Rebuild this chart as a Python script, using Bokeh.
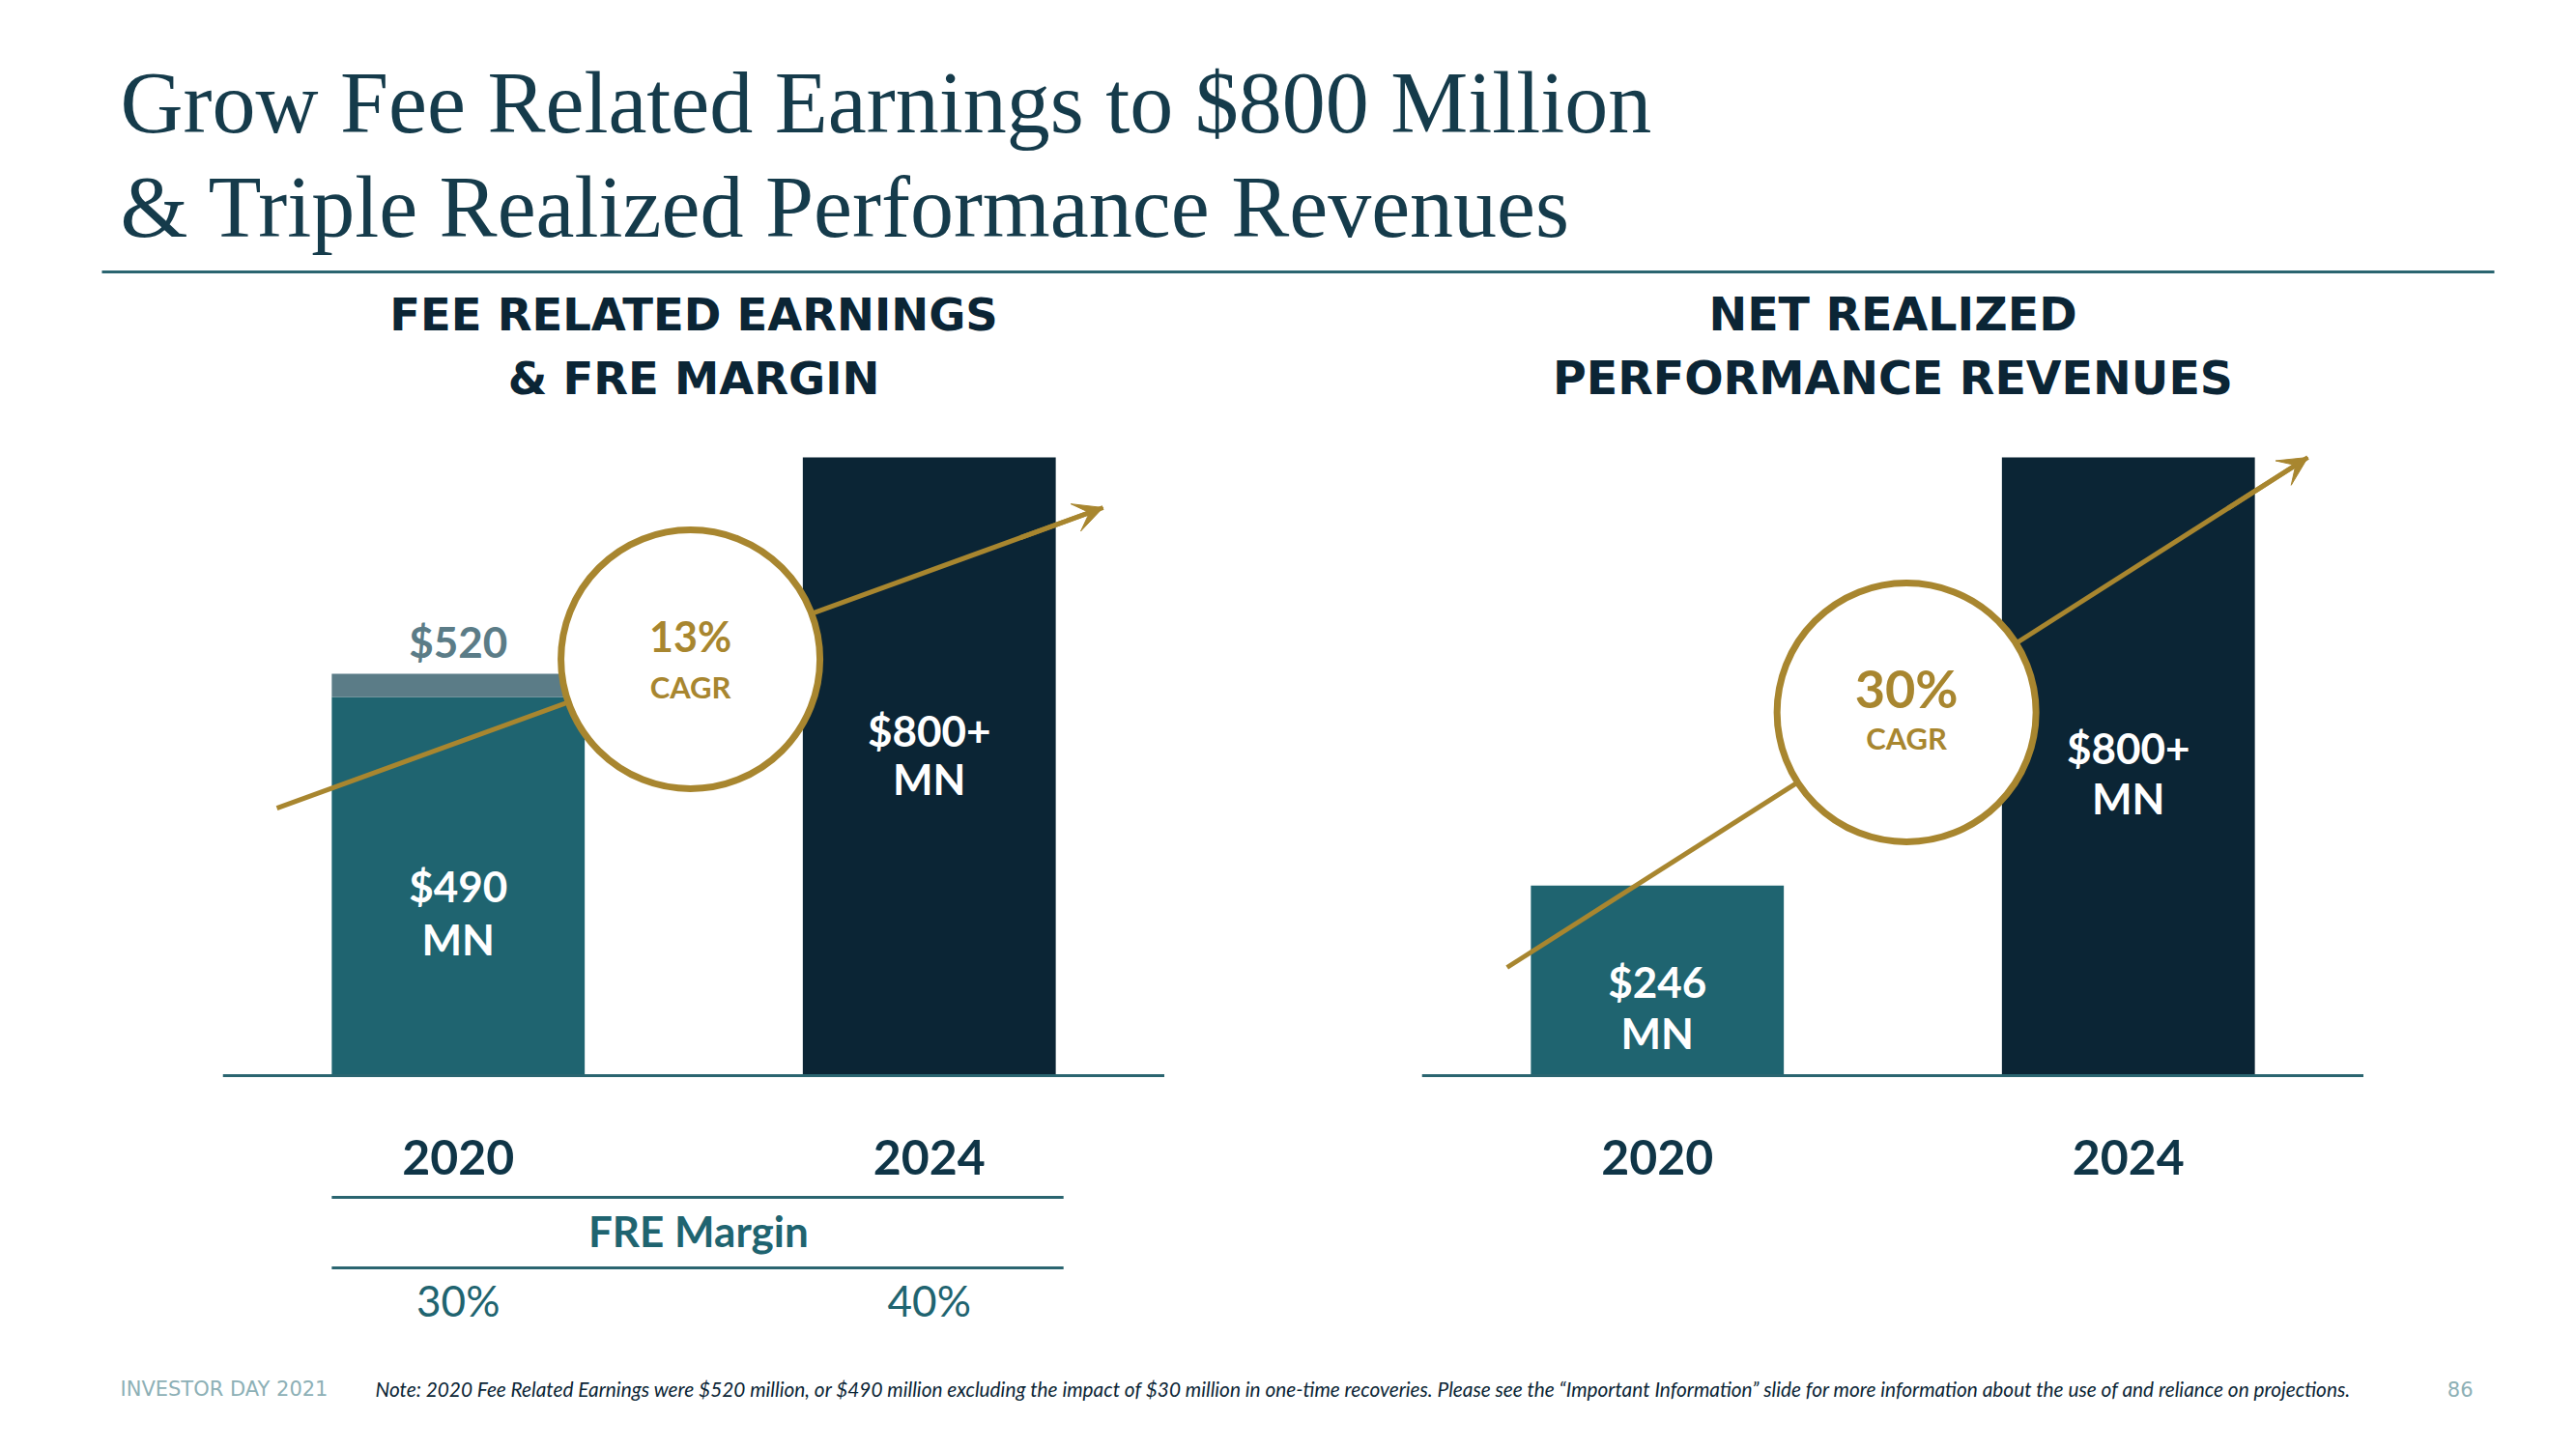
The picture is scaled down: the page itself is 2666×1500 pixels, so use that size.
from bokeh.plotting import figure
from bokeh.models import Range1d, FactorRange, Arrow, VeeHead, Spacer, ColumnDataSource
from bokeh.layouts import column, row
from bokeh.core.properties import value
from bokeh.embed import file_html
from bokeh.resources import INLINE

# ---------------- data ----------------
title_lines = ["Grow Fee Related Earnings to $800 Million",
               "& Triple Realized Performance Revenues"]
left_subtitle = ["FEE RELATED EARNINGS", "& FRE MARGIN"]
right_subtitle = ["NET REALIZED", "PERFORMANCE REVENUES"]
years = ["2020", "2024"]
fre_core = [490, 800]          # $ MN
fre_recovery = [30, 0]         # one-time recoveries ($ MN)
fre_value_labels = ["$490", "$800+"]
fre_total_label = "$520"
perf_rev = [246, 800]          # $ MN
perf_value_labels = ["$246", "$800+"]
fre_margin = ["30%", "40%"]
fre_cagr = "13%"
perf_cagr = "30%"
footer_left = "INVESTOR DAY 2021"
footer_note = ("Note: 2020 Fee Related Earnings were $520 million, or $490 million excluding the impact of "
               "$30 million in one-time recoveries. Please see the \u201cImportant Information\u201d slide for "
               "more information about the use of and reliance on projections.")
page_number = "86"

# ---------------- styles ----------------
NAVY = "#0b2535"
TEAL = "#1f6470"
LIGHT = "#5b7c87"
GOLD = "#a8862f"
RULE = "#2a6570"
TITLE_C = "#153b4b"
SANS = value("Lato")
BAR_W = 0.537

W = 2666
HDR_H = 288
CH_H = 1112
FTR_H = 100


def base_fig(width, height, x_range, y_range):
    f = figure(width=width, height=height, x_range=x_range, y_range=y_range,
               output_backend="svg", toolbar_location=None, min_border=0,
               x_axis_location=None, y_axis_location=None)
    f.outline_line_color = None
    f.grid.visible = False
    f.background_fill_color = "white"
    f.border_fill_color = "white"
    return f


# ---------------- header ----------------
hdr = base_fig(W, HDR_H, Range1d(0, W), Range1d(HDR_H, 0))
hdr.text(x=[124, 124], y=[106, 214], text=title_lines,
         text_font=value("Liberation Serif"), text_font_size="90px",
         text_color=TITLE_C, text_baseline="middle", text_align="left")
hdr.segment(x0=[105], y0=[281], x1=[2581], y1=[281], line_width=3, line_color=RULE)


# ---------------- chart panels ----------------
def chart(subtitle, sub_size):
    p = figure(width=975, height=CH_H, x_range=FactorRange(factors=years),
               y_range=Range1d(-358.75, 1031.25), output_backend="svg",
               toolbar_location=None, min_border=0, y_axis_location=None)
    p.outline_line_color = None
    p.grid.visible = False
    p.xaxis.fixed_location = 0
    p.xaxis.axis_line_color = RULE
    p.xaxis.axis_line_width = 3
    p.xaxis.major_tick_line_color = None
    p.xaxis.minor_tick_line_color = None
    p.xaxis.major_label_text_font = "Lato"
    p.xaxis.major_label_text_font_style = "bold"
    p.xaxis.major_label_text_font_size = "50px"
    p.xaxis.major_label_text_color = "#0f3547"
    p.xaxis.major_label_standoff = 60
    p.text(x=[1.0, 1.0], y=[985, 902.5], text=subtitle,
           text_font=value("DejaVu Sans"), text_font_style="bold", text_font_size=sub_size,
           text_color=NAVY, text_align="center", text_baseline="middle")
    return p


def cagr(p, cx, cy, start, end, pct, pct_y, cagr_y, pct_size):
    p.segment(x0=[start[0]], y0=[start[1]], x1=[end[0]], y1=[end[1]],
              line_color=GOLD, line_width=5)
    fx = start[0] + 0.9 * (end[0] - start[0])
    fy = start[1] + 0.9 * (end[1] - start[1])
    p.add_layout(Arrow(end=VeeHead(size=30, fill_color=GOLD, line_color=GOLD, line_width=1),
                       x_start=fx, y_start=fy, x_end=end[0], y_end=end[1],
                       line_color=GOLD, line_width=5))
    p.scatter(x=[cx], y=[cy], marker="circle", size=268, fill_color="white",
              line_color=GOLD, line_width=7)
    p.text(x=[cx], y=[pct_y], text=[pct], text_font=SANS, text_font_style="bold",
           text_font_size=pct_size, text_color=GOLD, text_align="center", text_baseline="middle")
    p.text(x=[cx], y=[cagr_y], text=["CAGR"], text_font=SANS, text_font_style="bold",
           text_font_size="31px", text_color=GOLD, text_align="center", text_baseline="middle")


def bar_labels(p, labels, y_val, y_unit):
    p.text(x=years, y=y_val, text=labels, text_font=SANS, text_font_style="bold",
           text_font_size="44px", text_color="white", text_align="center", text_baseline="middle")
    p.text(x=years, y=y_unit, text=["MN", "MN"], text_font=SANS, text_font_style="bold",
           text_font_size="44px", text_color="white", text_align="center", text_baseline="middle")


# left: Fee related earnings
left = chart(left_subtitle, "46.5px")
src = ColumnDataSource(dict(year=years, core=fre_core,
                            total=[a + b for a, b in zip(fre_core, fre_recovery)],
                            color=[TEAL, NAVY]))
left.vbar(x="year", bottom=0, top="core", width=BAR_W, fill_color="color", line_color=None, source=src)
left.vbar(x="year", bottom="core", top="total", width=BAR_W, fill_color=LIGHT, line_color=None, source=src)
cagr(left, 0.993, 538.75, (0.115, 346), (1.869, 735), fre_cagr, 568.75, 503.75, "43px")
bar_labels(left, fre_value_labels, [246, 447.5], [177.5, 384])
left.text(x=[years[0]], y=[562.5], text=[fre_total_label], text_font=SANS, text_font_style="bold",
          text_font_size="44px", text_color=LIGHT, text_align="center", text_baseline="middle")
# FRE margin table
left.segment(x0=[0.2315, 0.2315], x1=[1.785, 1.785], y0=[-157.5, -248.75], y1=[-157.5, -248.75],
             line_color=RULE, line_width=3)
left.text(x=[1.01], y=[-200], text=["FRE Margin"], text_font=SANS, text_font_style="bold",
          text_font_size="44px", text_color=TEAL, text_align="center", text_baseline="middle")
left.text(x=years, y=[-291, -291], text=fre_margin, text_font=SANS,
          text_font_size="44px", text_color=TEAL, text_align="center", text_baseline="middle")

# right: Net realized performance revenues
right = chart(right_subtitle, "47.5px")
right.vbar(x=years, top=perf_rev, width=BAR_W, fill_color=[TEAL, NAVY], line_color=None)
cagr(right, 1.029, 470, (0.181, 140), (1.881, 800), perf_cagr, 501, 437.5, "54px")
bar_labels(right, perf_value_labels, [122.5, 424], [56, 359])

# ---------------- footer ----------------
ftr = base_fig(W, FTR_H, Range1d(0, W), Range1d(FTR_H, 0))
ftr.text(x=[124], y=[37], text=[footer_left], text_font=value("DejaVu Sans"), text_font_size="21px",
         text_color="#8db0b6", text_align="left", text_baseline="middle")
ftr.text(x=[388], y=[37], text=[footer_note], text_font=SANS, text_font_style="italic",
         text_font_size="20.8px", text_color=NAVY, text_align="left", text_baseline="middle")
ftr.text(x=[2559], y=[37], text=[page_number], text_font=value("DejaVu Sans"), text_font_size="21px",
         text_color="#8db0b6", text_align="right", text_baseline="middle")

layout = column(
    hdr,
    row(Spacer(width=230, height=CH_H), left, Spacer(width=266, height=CH_H), right,
        Spacer(width=220, height=CH_H)),
    ftr,
)

open("out.html", "w").write(file_html(layout, INLINE))
